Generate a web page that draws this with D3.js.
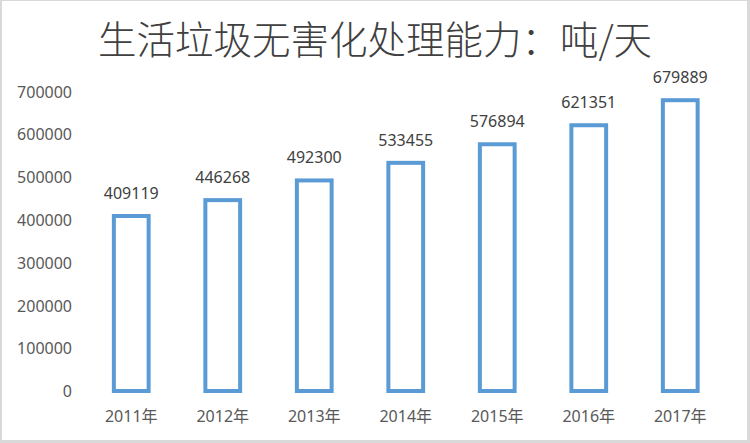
<!DOCTYPE html>
<html lang="zh">
<head>
    <meta charset="UTF-8">
    <title>生活垃圾无害化处理能力</title>
    <script src="https://d3js.org/d3.v7.min.js"></script>
    <style>
        html, body {
            margin: 0;
            padding: 0;
            background: #fff;
        }
        svg {
            display: block;
        }
        .num {
            font-family: "Noto Sans", "Open Sans", sans-serif;
            font-size: 16px;
        }
    </style>
</head>
<body>
    <div id="vis"></div>
    <script>
        // data
        var years = ["2011年", "2012年", "2013年", "2014年", "2015年", "2016年", "2017年"];
        var capacity = [409119, 446268, 492300, 533455, 576894, 621351, 679889];
        var yTicks = [0, 100000, 200000, 300000, 400000, 500000, 600000, 700000];
        var title = "生活垃圾无害化处理能力：吨/天";

        var width = 750, height = 443;

        var svg = d3.select("#vis")
            .append("svg")
                .attr("width", width)
                .attr("height", height);

        // light grey frame round the chart area
        svg.append("rect")
            .attr("width", width)
            .attr("height", height)
            .attr("fill", "#d9d9d9");
        svg.append("rect")
            .attr("x", 2)
            .attr("y", 1)
            .attr("width", 745)
            .attr("height", 439)
            .attr("fill", "#fff");

        var x_scale = d3.scaleBand()
            .domain(years)
            .range([85.5, 726])
            .paddingInner(0.62)
            .paddingOuter(0.31);

        var y_scale = d3.scaleLinear()
            .domain([0, 700000])
            .range([391, 91.6]);

        svg.append("text")
            .attr("x", 375)
            .attr("y", 37)
            .attr("text-anchor", "middle")
            .attr("dominant-baseline", "central")
            .attr("fill", "#404040")
            .style("font-family", '"Noto Sans CJK SC", sans-serif')
            .style("font-weight", 300)
            .style("font-size", "38.5px")
            .text(title);

        // y axis: labels only, no line
        var y_axis = d3.axisLeft(y_scale)
            .tickValues(yTicks)
            .tickSize(0)
            .tickPadding(0)
            .tickFormat(function(d){ return String(d); });

        var gy = svg.append("g")
            .attr("class", "num")
            .attr("transform", "translate(72,0)")
            .call(y_axis);
        gy.select(".domain").remove();
        gy.selectAll("text")
            .attr("fill", "#595959")
            .attr("dy", "0.35em")
            .style("font-size", "16px")
            .style("font-family", '"Noto Sans", sans-serif');

        var x_axis = d3.axisBottom(x_scale)
            .tickSize(0)
            .tickPadding(0);

        var gx = svg.append("g")
            .attr("transform", "translate(0,416)")
            .call(x_axis);
        gx.select(".domain").remove();
        gx.selectAll("text")
            .attr("fill", "#595959")
            .attr("y", 0)
            .attr("dy", "0.35em")
            .style("font-size", "16px")
            .style("font-family", '"Noto Sans", "Noto Sans CJK SC", sans-serif');

        var data = years.map(function(y, i){ return {year: y, value: capacity[i]}; });

        // hollow bars
        svg.selectAll(".bar")
            .data(data)
            .enter()
            .append("rect")
                .attr("class", "bar")
                .attr("x", function(d){ return x_scale(d.year); })
                .attr("y", function(d){ return y_scale(d.value); })
                .attr("width", x_scale.bandwidth())
                .attr("height", function(d){ return y_scale(0) - y_scale(d.value); })
                .attr("fill", "#fff")
                .attr("stroke", "#5b9bd5")
                .attr("stroke-width", 4);

        svg.selectAll(".label")
            .data(data)
            .enter()
            .append("text")
                .attr("class", "label num")
                .attr("x", function(d){ return x_scale(d.year) + x_scale.bandwidth() / 2; })
                .attr("y", function(d){ return y_scale(d.value) - 23; })
                .attr("text-anchor", "middle")
                .attr("dominant-baseline", "central")
                .attr("fill", "#404040")
                .text(function(d){ return d.value; });
    </script>
</body>
</html>
